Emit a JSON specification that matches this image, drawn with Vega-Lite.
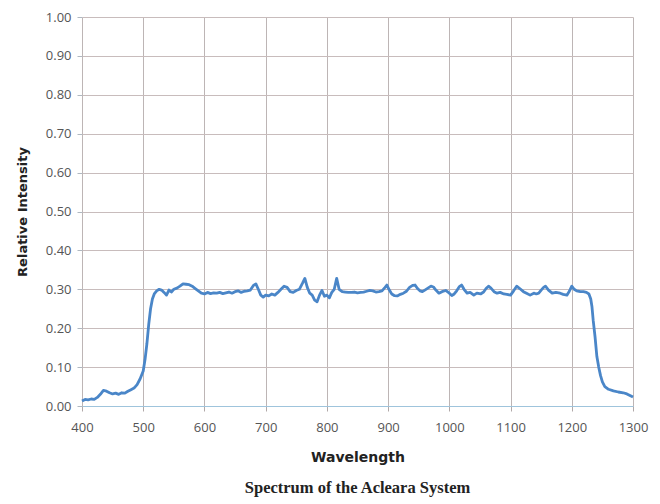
{
  "$schema": "https://vega.github.io/schema/vega-lite/v6.json",
  "width": 551,
  "height": 389,
  "autosize": {"type": "none"},
  "padding": {"left": 82, "top": 17, "right": 27, "bottom": 98},
  "background": "white",
  "config": {"view": {"stroke": null}},
  "title": {
    "text": "Spectrum of the Acleara System",
    "orient": "bottom",
    "anchor": "middle",
    "font": "Liberation Serif",
    "fontSize": 16.5,
    "fontWeight": "bold",
    "color": "#222222",
    "offset": 16
  },
  "data": {"values": [
    {"w":400,"v":0.013},{"w":405,"v":0.017},{"w":410,"v":0.016},{"w":415,"v":0.018},{"w":420,"v":0.017},{"w":425,"v":0.022},{"w":430,"v":0.030},{"w":435,"v":0.040},{"w":440,"v":0.038},{"w":445,"v":0.034},{"w":450,"v":0.031},{"w":455,"v":0.033},{"w":460,"v":0.030},{"w":465,"v":0.034},{"w":470,"v":0.033},{"w":475,"v":0.038},{"w":480,"v":0.042},{"w":485,"v":0.046},{"w":490,"v":0.055},{"w":495,"v":0.070},{"w":500,"v":0.090},{"w":503,"v":0.12},{"w":506,"v":0.16},{"w":509,"v":0.21},{"w":512,"v":0.25},{"w":515,"v":0.275},{"w":518,"v":0.288},{"w":522,"v":0.296},{"w":526,"v":0.300},{"w":530,"v":0.298},{"w":534,"v":0.292},{"w":538,"v":0.285},{"w":542,"v":0.298},{"w":546,"v":0.293},{"w":550,"v":0.300},{"w":555,"v":0.303},{"w":560,"v":0.308},{"w":565,"v":0.314},{"w":570,"v":0.313},{"w":575,"v":0.312},{"w":580,"v":0.308},{"w":585,"v":0.302},{"w":590,"v":0.296},{"w":595,"v":0.290},{"w":600,"v":0.288},{"w":605,"v":0.292},{"w":610,"v":0.289},{"w":615,"v":0.291},{"w":620,"v":0.290},{"w":625,"v":0.292},{"w":630,"v":0.289},{"w":635,"v":0.291},{"w":640,"v":0.293},{"w":645,"v":0.290},{"w":650,"v":0.294},{"w":655,"v":0.296},{"w":660,"v":0.292},{"w":665,"v":0.295},{"w":670,"v":0.296},{"w":675,"v":0.298},{"w":680,"v":0.310},{"w":684,"v":0.314},{"w":688,"v":0.300},{"w":692,"v":0.285},{"w":696,"v":0.280},{"w":700,"v":0.285},{"w":705,"v":0.283},{"w":710,"v":0.288},{"w":715,"v":0.285},{"w":720,"v":0.292},{"w":725,"v":0.300},{"w":730,"v":0.308},{"w":735,"v":0.305},{"w":740,"v":0.294},{"w":745,"v":0.292},{"w":750,"v":0.297},{"w":755,"v":0.300},{"w":760,"v":0.315},{"w":764,"v":0.328},{"w":768,"v":0.305},{"w":772,"v":0.290},{"w":776,"v":0.285},{"w":780,"v":0.272},{"w":784,"v":0.268},{"w":788,"v":0.285},{"w":792,"v":0.297},{"w":796,"v":0.282},{"w":800,"v":0.285},{"w":804,"v":0.278},{"w":808,"v":0.292},{"w":812,"v":0.300},{"w":816,"v":0.328},{"w":820,"v":0.300},{"w":825,"v":0.294},{"w":830,"v":0.293},{"w":835,"v":0.292},{"w":840,"v":0.292},{"w":845,"v":0.293},{"w":850,"v":0.291},{"w":855,"v":0.292},{"w":860,"v":0.293},{"w":865,"v":0.295},{"w":870,"v":0.297},{"w":875,"v":0.296},{"w":880,"v":0.293},{"w":885,"v":0.294},{"w":890,"v":0.296},{"w":895,"v":0.305},{"w":898,"v":0.311},{"w":902,"v":0.298},{"w":906,"v":0.288},{"w":910,"v":0.284},{"w":915,"v":0.283},{"w":920,"v":0.287},{"w":925,"v":0.290},{"w":930,"v":0.295},{"w":935,"v":0.305},{"w":940,"v":0.310},{"w":944,"v":0.311},{"w":948,"v":0.302},{"w":952,"v":0.296},{"w":956,"v":0.294},{"w":960,"v":0.298},{"w":965,"v":0.303},{"w":970,"v":0.308},{"w":974,"v":0.306},{"w":978,"v":0.298},{"w":983,"v":0.290},{"w":988,"v":0.294},{"w":994,"v":0.297},{"w":1000,"v":0.290},{"w":1004,"v":0.284},{"w":1008,"v":0.288},{"w":1012,"v":0.296},{"w":1016,"v":0.306},{"w":1020,"v":0.311},{"w":1024,"v":0.300},{"w":1029,"v":0.290},{"w":1034,"v":0.292},{"w":1040,"v":0.285},{"w":1045,"v":0.290},{"w":1051,"v":0.288},{"w":1056,"v":0.293},{"w":1060,"v":0.302},{"w":1064,"v":0.308},{"w":1068,"v":0.303},{"w":1073,"v":0.294},{"w":1078,"v":0.290},{"w":1083,"v":0.292},{"w":1089,"v":0.288},{"w":1094,"v":0.287},{"w":1100,"v":0.285},{"w":1105,"v":0.296},{"w":1110,"v":0.308},{"w":1115,"v":0.302},{"w":1121,"v":0.294},{"w":1126,"v":0.290},{"w":1132,"v":0.285},{"w":1138,"v":0.290},{"w":1142,"v":0.288},{"w":1146,"v":0.290},{"w":1150,"v":0.298},{"w":1154,"v":0.305},{"w":1157,"v":0.308},{"w":1162,"v":0.298},{"w":1168,"v":0.290},{"w":1174,"v":0.292},{"w":1181,"v":0.290},{"w":1186,"v":0.287},{"w":1192,"v":0.285},{"w":1196,"v":0.295},{"w":1200,"v":0.308},{"w":1204,"v":0.300},{"w":1208,"v":0.296},{"w":1214,"v":0.294},{"w":1219,"v":0.294},{"w":1224,"v":0.292},{"w":1228,"v":0.288},{"w":1231,"v":0.275},{"w":1233,"v":0.255},{"w":1235,"v":0.220},{"w":1238,"v":0.178},{"w":1241,"v":0.127},{"w":1244,"v":0.100},{"w":1247,"v":0.078},{"w":1250,"v":0.062},{"w":1254,"v":0.050},{"w":1260,"v":0.043},{"w":1268,"v":0.039},{"w":1276,"v":0.036},{"w":1284,"v":0.034},{"w":1290,"v":0.031},{"w":1295,"v":0.027},{"w":1300,"v":0.023}
  ]},
  "mark": {"type": "line", "color": "#4a86c8", "strokeWidth": 2.8, "interpolate": "linear", "strokeJoin": "round"},
  "encoding": {
    "x": {
      "field": "w", "type": "quantitative",
      "scale": {"domain": [400, 1300], "nice": false, "zero": false},
      "axis": {
        "title": "Wavelength",
        "values": [400,500,600,700,800,900,1000,1100,1200,1300],
        "format": "d",
        "labelFlush": false, "labelBound": false, "labelOverlap": false,
        "grid": true, "gridColor": "#bdb5b5", "gridWidth": 1,
        "domain": true, "domainColor": "#9fc4dc", "domainWidth": 1,
        "ticks": true, "tickColor": "#b0a8a8", "tickSize": 5,
        "labelFont": "Open Sans", "labelFontSize": 13, "labelColor": "#555555", "labelPadding": 10,
        "titleFont": "DejaVu Sans", "titleFontSize": 14, "titleFontWeight": "bold", "titleColor": "#222222", "titlePadding": 16
      }
    },
    "y": {
      "field": "v", "type": "quantitative",
      "scale": {"domain": [0, 1], "nice": false},
      "axis": {
        "title": "Relative Intensity",
        "values": [0,0.1,0.2,0.3,0.4,0.5,0.6,0.7,0.8,0.9,1.0],
        "format": ".2f",
        "grid": true, "gridColor": "#c8bcbc", "gridWidth": 1,
        "domain": false,
        "ticks": true, "tickColor": "#b0b8c0", "tickSize": 5,
        "labelFont": "Open Sans", "labelFontSize": 13, "labelColor": "#555555", "labelPadding": 6,
        "titleFont": "DejaVu Sans", "titleFontSize": 13, "titleFontWeight": "bold", "titleColor": "#222222", "titlePadding": 16
      }
    }
  }
}
